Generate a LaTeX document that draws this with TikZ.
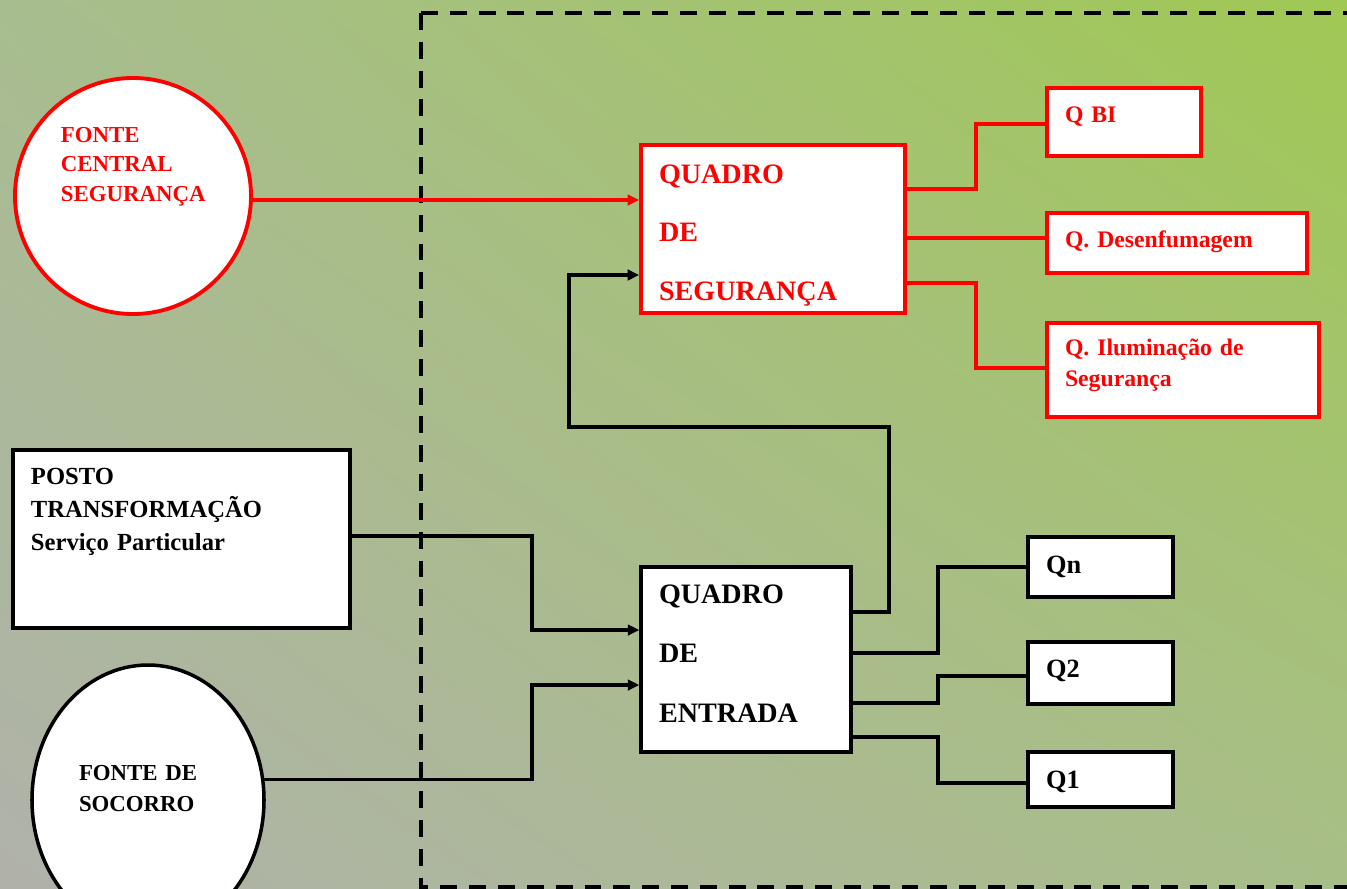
\documentclass[tikz,border=0pt]{standalone}
\usepackage{fontspec}
\setmainfont{Liberation Serif}
\usetikzlibrary{arrows.meta,shapes.geometric,shadings}
\definecolor{bgul}{RGB}{168,189,143}
\definecolor{bgur}{RGB}{160,200,84}
\definecolor{bgll}{RGB}{176,178,170}
\definecolor{bglr}{RGB}{168,190,136}
\newcommand{\boxlines}[1]{\begin{tabular}[t]{@{}l@{}}#1\end{tabular}}
\tikzset{x=0.2mm, y=-0.2mm,
         panel/.style={draw, line width=2pt, fill=white, inner xsep=3.6mm,
                       inner ysep=0pt, align=left},
         redpanel/.style={panel, draw=red, text=red, line width=2.2pt},
         wire/.style={draw, line width=2pt},
         redwire/.style={wire, draw=red, line width=2.2pt},
         arr/.style={-{Triangle[length=6.5pt,width=6pt]}},
         frame/.style={draw, line width=2pt, dash pattern=on 9.6pt off 6.8pt},
         bigtxt/.style={font=\bfseries\fontsize{16}{33.5}\selectfont},
         midtxt/.style={font=\bfseries\fontsize{14}{19}\selectfont},
         qtxt/.style={font=\bfseries\fontsize{15}{18}\selectfont},
         smalltxt/.style={font=\bfseries\fontsize{13.5}{18}\selectfont}}

\begin{document}
\begin{tikzpicture}
\useasboundingbox (0,0) rectangle (1347,888);
\clip (0,0) rectangle (1347,888);
\shade[upper left=bgul, upper right=bgur, lower left=bgll, lower right=bglr]
  (0,0) rectangle (1347,888);

\draw[frame] (421,13) -- (1360,13);
\draw[frame] (421,13) -- (421,887) -- (1360,887);

\node[circle, draw=red, line width=2.2pt, fill=white, minimum size=47.2mm,
      inner sep=0pt, text=red, align=left, text width=28.8mm, text height=3mm,
      text depth=24.6mm, font=\bfseries\fontsize{13}{17}\selectfont]
  (fcs) at (133,196) {\boxlines{FONTE\\CENTRAL\\SEGURANÇA}};
\node[redpanel, bigtxt, text width=45.6mm, text height=7.6mm, text depth=26mm]
  (qs) at (773,229) {\boxlines{QUADRO\\DE\\SEGURANÇA}};
\node[redpanel, smalltxt, text width=23.6mm, text height=6.8mm, text depth=6.8mm]
  (qbi) at (1124,122) {Q BI};
\node[redpanel, smalltxt, text width=44.8mm, text height=6.8mm, text depth=5.2mm]
  (qdes) at (1177,243) {Q. Desenfumagem};
\node[redpanel, smalltxt, text width=47.2mm, text height=6.4mm, text depth=12.4mm]
  (qilu) at (1183,370) {\boxlines{Q. Iluminação de\\Segurança}};

\node[panel, midtxt, text width=60.2mm, text height=6.8mm, text depth=28.8mm]
  (pt) at (181.5,539) {\boxlines{POSTO\\TRANSFORMAÇÃO\\Serviço Particular}};
\node[ellipse, draw, line width=2pt, fill=white, minimum width=46.4mm,
      minimum height=54mm, inner sep=0pt, align=left, text width=27.6mm,
      text height=3mm, text depth=11mm, font=\bfseries\fontsize{13}{18}\selectfont]
  (fds) at (148,800) {\boxlines{FONTE DE\\SOCORRO}};
\node[panel, font=\bfseries\fontsize{16}{34}\selectfont, text width=34.8mm,
      text height=7.2mm, text depth=29.8mm]
  (qe) at (746,659.5) {\boxlines{QUADRO\\DE\\ENTRADA}};
\node[panel, qtxt, text width=21.8mm, text height=7.2mm, text depth=4.8mm]
  (qn) at (1100.5,567) {Qn};
\node[panel, qtxt, text width=21.8mm, text height=7mm, text depth=5.4mm]
  (q2) at (1100.5,673) {Q2};
\node[panel, qtxt, text width=21.8mm, text height=7.2mm, text depth=3.8mm]
  (q1) at (1100.5,779.5) {Q1};

\draw[redwire, arr] (fcs.east |- 0,200) -- (qs.west |- 0,200);
\draw[redwire] (qs.east |- 0,189) -| (976,124) -- (qbi.west |- 0,124);
\draw[redwire] (qs.east |- 0,238) -- (qdes.west |- 0,238);
\draw[redwire] (qs.east |- 0,283) -| (976,368) -- (qilu.west |- 0,368);

\draw[wire, arr] (qe.east |- 0,612) -| (889,427) -| (569,275) -- (qs.west |- 0,275);
\draw[wire, arr] (pt.east |- 0,536) -| (532,630) -- (qe.west |- 0,630);
\draw[wire, arr] (fds.10) -| (532,685) -- (qe.west |- 0,685);
\draw[wire] (qe.east |- 0,653) -| (938,567) -- (qn.west);
\draw[wire] (qe.east |- 0,703) -| (938,676) -- (q2.west |- 0,676);
\draw[wire] (qe.east |- 0,737) -| (938,783) -- (q1.west |- 0,783);
\end{tikzpicture}
\end{document}
